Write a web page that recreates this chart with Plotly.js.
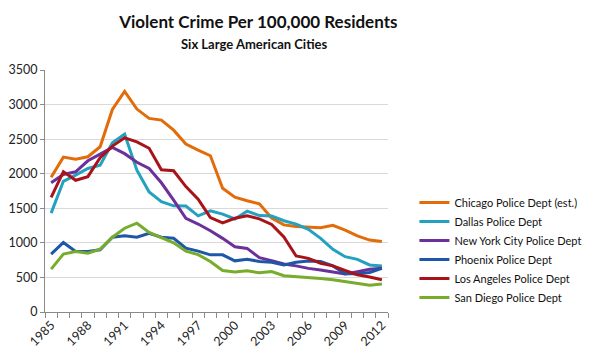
<!DOCTYPE html>
<html>
<head>
<meta charset="utf-8">
<script src="https://cdn.plot.ly/plotly-3.0.1.min.js"></script>
<style>html,body{margin:0;padding:0;background:#fff;}#chart{width:598px;height:355px;}</style>
</head>
<body>
<div id="chart"></div>
<script>
const years = [1985,1986,1987,1988,1989,1990,1991,1992,1993,1994,1995,1996,1997,1998,1999,2000,2001,2002,2003,2004,2005,2006,2007,2008,2009,2010,2011,2012];
const tickYears = [1985,1988,1991,1994,1997,2000,2003,2006,2009,2012];
const seriesNames = ["Chicago Police Dept (est.)","Dallas Police Dept","New York City Police Dept","Phoenix Police Dept","Los Angeles Police Dept","San Diego Police Dept"];
const chicago = [1950,2240,2210,2245,2390,2930,3190,2935,2800,2775,2630,2430,2340,2260,1790,1660,1610,1565,1360,1260,1235,1225,1220,1255,1185,1100,1040,1020];
const dallas = [1430,1890,1980,2076,2124,2447,2572,2052,1735,1595,1535,1532,1390,1462,1416,1345,1459,1395,1387,1320,1272,1195,1065,906,800,762,680,665];
const newYork = [1870,1990,2028,2187,2283,2380,2290,2165,2076,1869,1618,1354,1272,1175,1065,944,920,785,743,694,667,631,607,583,550,583,617,632];
const phoenix = [836,1005,875,875,899,1082,1101,1082,1139,1082,1067,923,880,827,827,740,764,730,719,681,719,738,729,667,552,552,571,633];
const losAngeles = [1657,2030,1905,1958,2232,2400,2519,2461,2368,2058,2043,1814,1632,1365,1288,1355,1392,1347,1267,1086,810,776,705,667,600,538,505,467];
const sanDiego = [620,837,875,851,909,1082,1212,1284,1150,1070,1000,880,830,731,601,577,596,567,586,524,514,500,486,467,443,419,386,405];
const colors = ["#E36C0A","#23A1BF","#6B3099","#1D57A8","#A8131A","#78AC2C"];

const allSeries = [chicago,dallas,newYork,phoenix,losAngeles,sanDiego];
const traces = allSeries.map((vals,i)=>({
  x: years, y: vals, name: seriesNames[i], type: 'scatter', mode: 'lines',
  line: {color: colors[i], width: 3}
}));

const fam = 'Lato, "Open Sans", sans-serif';
const layout = {
  width: 598, height: 355,
  paper_bgcolor: '#fff', plot_bgcolor: '#fff',
  margin: {l: 45, r: 203, t: 70, b: 43},
  font: {family: fam, color: '#222', size: 12},
  title: {
    text: '<b>Violent Crime Per 100,000 Residents</b>',
    font: {size: 17, color: '#111', family: fam},
    xref: 'container', x: 0.432, xanchor: 'center',
    yref: 'container', y: 0.938, yanchor: 'middle'
  },
  annotations: [{
    text: '<b>Six Large American Cities</b>', showarrow: false,
    xref: 'paper', yref: 'paper', x: (258-45)/350, y: (312-44)/242,
    xanchor: 'center', yanchor: 'middle',
    font: {size: 13, color: '#111', family: fam}
  }],
  xaxis: {
    range: [1984.5, 2012.5], tickmode: 'array', tickvals: tickYears, ticktext: tickYears.map(String),
    tickangle: -45, ticks: '', showgrid: false, zeroline: false,
    showline: true, linecolor: '#8a8a8a', linewidth: 1,
    tickfont: {size: 12.5, color: '#222'},
    minor: {tick0: 1984.5, dtick: 1, ticks: 'outside', ticklen: 5, tickcolor: '#8a8a8a', showgrid: false}
  },
  yaxis: {
    range: [0, 3500], dtick: 500, tick0: 0, ticks: 'outside', ticklen: 4, tickcolor: '#8a8a8a',
    showline: true, linecolor: '#8a8a8a', linewidth: 1,
    showgrid: true, gridcolor: '#d9d9d9', gridwidth: 1, zeroline: false,
    tickfont: {size: 12.5, color: '#222'}
  },
  showlegend: true,
  legend: {
    x: 1.077, xanchor: 'left', y: 0.256, yanchor: 'middle',
    font: {size: 11, color: '#111'}, tracegroupgap: 0, itemwidth: 30,
    bgcolor: 'rgba(0,0,0,0)'
  }
};

Plotly.newPlot('chart', traces, layout, {displayModeBar: false, staticPlot: true});
</script>
</body>
</html>
